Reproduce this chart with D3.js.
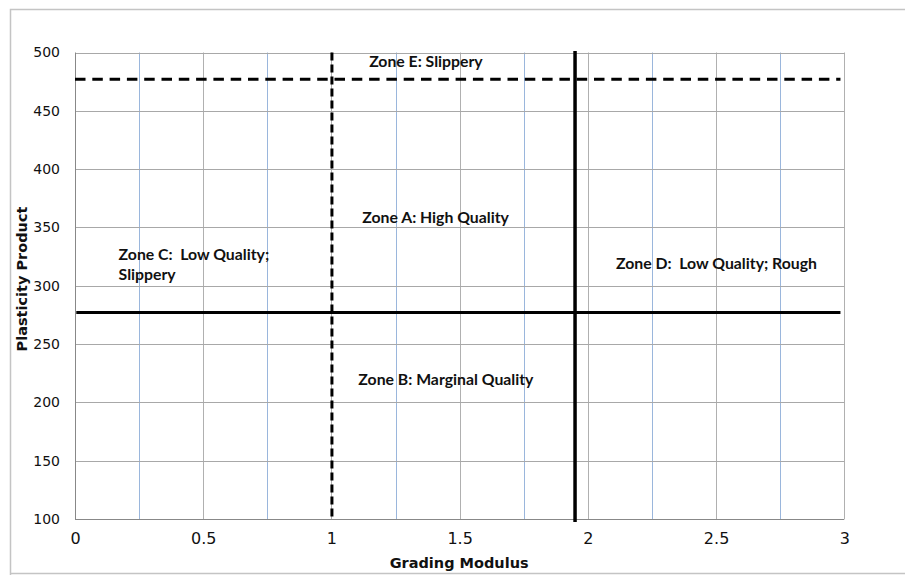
<!DOCTYPE html>
<html>
<head>
<meta charset="utf-8">
<script src="https://cdn.jsdelivr.net/npm/d3@7"></script>
<style>
  html, body { margin: 0; padding: 0; background: #fff; }
  svg { display: block; }
</style>
</head>
<body>
<svg id="chart" width="905" height="575"></svg>
<script>
// ---- data ----
const xTicks = [0, 0.5, 1, 1.5, 2, 2.5, 3];
const xMinorTicks = [0.25, 0.75, 1.25, 1.75, 2.25, 2.75];
const yTicks = [100, 150, 200, 250, 300, 350, 400, 450, 500];
const xDomain = [0, 3];
const yDomain = [100, 500];

// zone boundaries (grading modulus / plasticity product)
const dashedVertical = [1.0];
const solidVertical = [1.95];
const dashedHorizontal = [477];
const solidHorizontal = [277];
const horizontalExtent = [0.005, 2.985];

const zoneLabels = ["Zone E: Slippery", "Zone A: High Quality", "Zone C:  Low Quality;|Slippery",
                    "Zone D:  Low Quality; Rough", "Zone B: Marginal Quality"];
const zoneLabelX = [1.147, 1.12, 0.17, 2.11, 1.105];
const zoneLabelY = [487.5, 354, 322, 314, 215];

const xTitle = "Grading Modulus";
const yTitle = "Plasticity Product";

// ---- drawing ----
const svg = d3.select("#chart");
const pL = 75, pR = 844.3, pT = 52.5, pB = 519;

const x = d3.scaleLinear().domain(xDomain).range([pL, pR]);
const y = d3.scaleLinear().domain(yDomain).range([pB, pT]);

// outer frame
svg.append("path")
  .attr("d", `M10.5,906 L10.5,9.5 L906,9.5 M10.5,573.5 L906,573.5`)
  .attr("fill", "none").attr("stroke", "#c4c4c4").attr("stroke-width", 1.5);

// minor vertical grid (blue)
svg.append("g").selectAll("line").data(xMinorTicks).join("line")
  .attr("x1", d => Math.round(x(d)) + 0.5).attr("x2", d => Math.round(x(d)) + 0.5)
  .attr("y1", pT).attr("y2", pB)
  .attr("stroke", "#9ab6dc").attr("stroke-width", 1);

// major vertical grid
svg.append("g").selectAll("line").data(xTicks.filter(d => d > 0)).join("line")
  .attr("x1", d => Math.round(x(d)) + 0.5).attr("x2", d => Math.round(x(d)) + 0.5)
  .attr("y1", pT).attr("y2", pB)
  .attr("stroke", "#b0b0b0").attr("stroke-width", 1);

// horizontal grid
svg.append("g").selectAll("line").data(yTicks.filter(d => d > 100)).join("line")
  .attr("x1", pL).attr("x2", pR)
  .attr("y1", d => Math.round(y(d)) + 0.5).attr("y2", d => Math.round(y(d)) + 0.5)
  .attr("stroke", "#a8a8a8").attr("stroke-width", 1);

// axes spines
svg.append("line").attr("x1", pL + 0.5).attr("x2", pL + 0.5).attr("y1", pT).attr("y2", pB + 0.5)
  .attr("stroke", "#888").attr("stroke-width", 1);
svg.append("line").attr("x1", pL).attr("x2", pR).attr("y1", Math.round(pB) + 0.5).attr("y2", Math.round(pB) + 0.5)
  .attr("stroke", "#888").attr("stroke-width", 1);

// axes labels via d3 axes
const xAxis = d3.axisBottom(x).tickValues(xTicks).tickFormat(d3.format("")).tickSize(0).tickPadding(14);
const gx = svg.append("g").attr("transform", `translate(0,${pB})`).call(xAxis);
gx.select(".domain").remove();
gx.selectAll("text").attr("font-family", "DejaVu Sans, Verdana, sans-serif").attr("font-size", 16).attr("fill", "#111");

const yAxis = d3.axisLeft(y).tickValues(yTicks).tickSize(0).tickPadding(15);
const gy = svg.append("g").attr("transform", `translate(${pL},0)`).call(yAxis);
gy.select(".domain").remove();
gy.selectAll("text").attr("font-family", "DejaVu Sans, Verdana, sans-serif").attr("font-size", 14).attr("fill", "#111");

// zone boundary lines
svg.append("g").selectAll("line").data(dashedHorizontal).join("line")
  .attr("x1", x(0)).attr("x2", x(horizontalExtent[1]))
  .attr("y1", d => y(d)).attr("y2", d => y(d))
  .attr("stroke", "#000").attr("stroke-width", 3).attr("stroke-dasharray", "10.5,6.8");

svg.append("g").selectAll("line").data(solidHorizontal).join("line")
  .attr("x1", x(horizontalExtent[0])).attr("x2", x(horizontalExtent[1]))
  .attr("y1", d => y(d)).attr("y2", d => y(d))
  .attr("stroke", "#000").attr("stroke-width", 3);

svg.append("g").selectAll("line").data(dashedVertical).join("line")
  .attr("x1", d => x(d) + 0.5).attr("x2", d => x(d) + 0.5)
  .attr("y1", y(500)).attr("y2", y(100))
  .attr("stroke", "#000").attr("stroke-width", 3).attr("stroke-dasharray", "8,4");

svg.append("g").selectAll("line").data(solidVertical).join("line")
  .attr("x1", d => x(d)).attr("x2", d => x(d))
  .attr("y1", y(500) - 1.5).attr("y2", y(100) + 3)
  .attr("stroke", "#000").attr("stroke-width", 3.5);

// zone labels
const zl = svg.append("g").selectAll("text").data(zoneLabels).join("text")
  .attr("x", (d, i) => x(zoneLabelX[i]))
  .attr("y", (d, i) => y(zoneLabelY[i]))
  .attr("font-family", "Lato, 'Open Sans', sans-serif")
  .attr("font-weight", "bold").attr("font-size", 15.8).attr("fill", "#111")
  .style("white-space", "pre");
zl.each(function(d, i) {
  const parts = d.split("|");
  d3.select(this).selectAll("tspan").data(parts).join("tspan")
    .attr("x", x(zoneLabelX[i]))
    .attr("dy", (p, j) => j === 0 ? 0 : 19.5)
    .text(p => p);
});

// axis titles
svg.append("text")
  .attr("x", (pL + pR) / 2 - 0.5).attr("y", 568)
  .attr("text-anchor", "middle")
  .attr("font-family", "DejaVu Sans, Verdana, sans-serif").attr("font-weight", "bold").attr("font-size", 14.5)
  .attr("fill", "#111").text(xTitle);

svg.append("text")
  .attr("transform", `translate(27,279) rotate(-90)`)
  .attr("text-anchor", "middle")
  .attr("font-family", "DejaVu Sans, Verdana, sans-serif").attr("font-weight", "bold").attr("font-size", 14.5)
  .attr("fill", "#111").text(yTitle);
</script>
</body>
</html>
